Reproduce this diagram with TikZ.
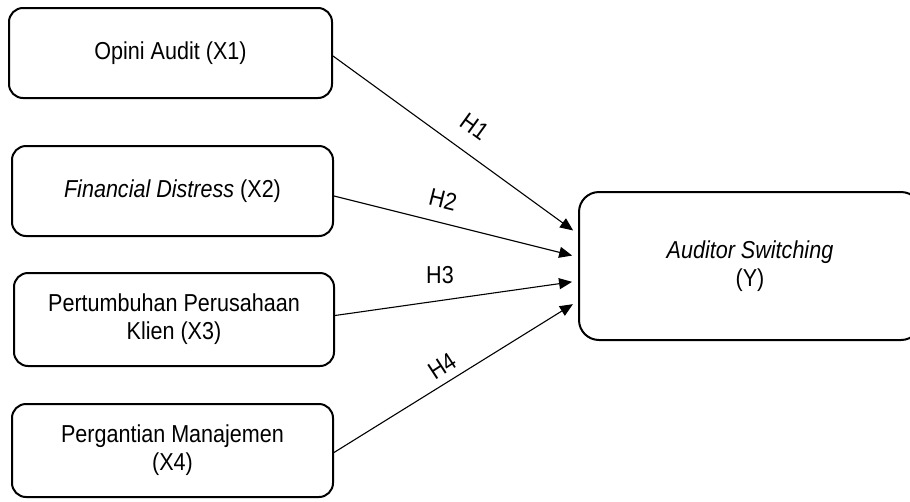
\documentclass[tikz,border=0pt]{standalone}
\usepackage{fontspec}
\setmainfont{Liberation Sans}[FakeStretch=0.88]
\usetikzlibrary{arrows.meta}
\begin{document}
\begin{tikzpicture}[x=1pt,y=-1pt,
  varbox/.style={draw, line width=2pt, rounded corners=14pt, align=center,
    font=\fontsize{24.5}{28}\selectfont, inner sep=0pt},
  arr/.style={line width=1.1pt, -{Triangle[length=13pt,width=11pt]}, shorten >=6pt},
  hlab/.style={font=\fontsize{24.5}{28}\selectfont, inner sep=0pt}]
\useasboundingbox (0,0) rectangle (910,501);
\clip (0,0) rectangle (910,501);
\fill[white] (0,0) rectangle (910,501);
\node[varbox, minimum width=323pt, minimum height=90pt] (b1) at (170.5,53) {Opini Audit (X1)};
\node[varbox, minimum width=321pt, minimum height=90pt] (b2) at (172.5,191) {\textit{Financial Distress} (X2)};
\node[varbox, minimum width=320pt, minimum height=93pt] (b3) at (174,319.5) {Pertumbuhan Perusahaan\\Klien (X3)};
\node[varbox, minimum width=321pt, minimum height=93pt] (b4) at (172.5,450.5) {Pergantian Manajemen\\(X4)};
\node[varbox, rounded corners=20pt, minimum width=342pt, minimum height=148pt] (Y) at (750,266) {\textit{Auditor Switching}\\(Y)};
\draw[arr] ([yshift=-3pt]b1.east) -- ([yshift=32pt]Y.west);
\draw[arr] ([yshift=-5pt]b2.east) -- ([yshift=9pt]Y.west);
\draw[arr] ([yshift=4pt]b3.east) -- ([yshift=-15pt]Y.west);
\draw[arr] ([yshift=-2pt]b4.east) -- ([yshift=-35pt]Y.west);
\node[hlab, rotate=-36] (h1) at (475,127) {H1};
\node[hlab, rotate=-14] (h2) at (443,200) {H2};
\node[hlab] (h3) at (440,275) {H3};
\node[hlab, rotate=33] (h4) at (442,366) {H4};
\end{tikzpicture}
\end{document}
